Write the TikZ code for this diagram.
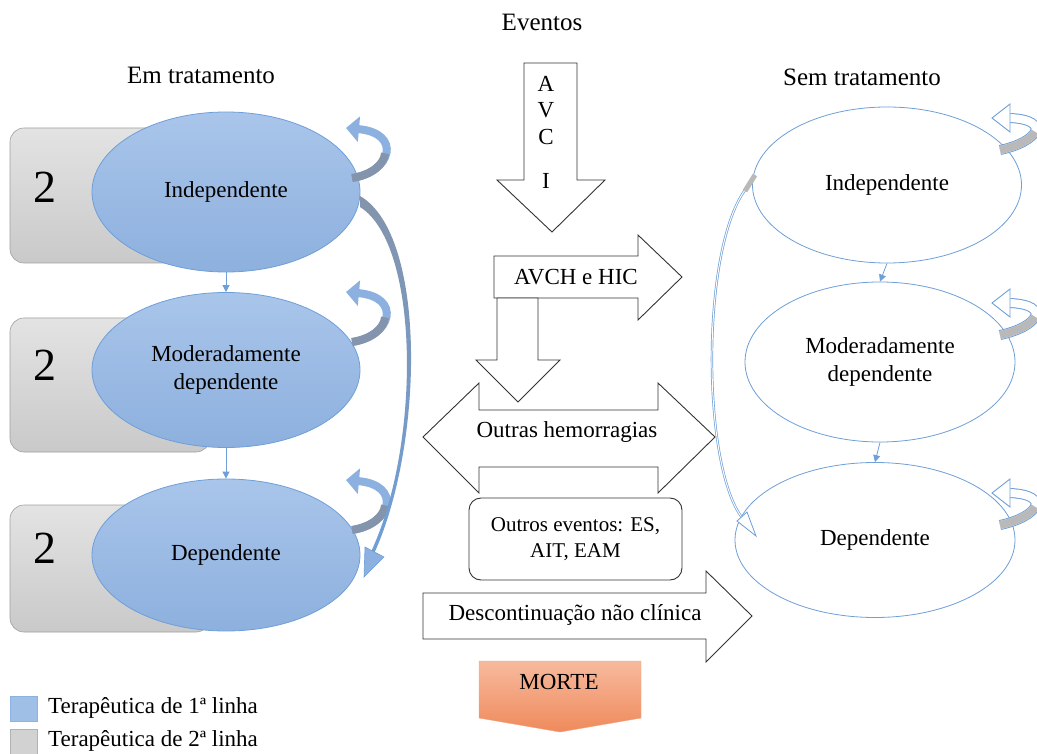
\documentclass[tikz,border=0pt]{standalone}
\usepackage{fontspec}
\setmainfont{Liberation Serif}
\usetikzlibrary{arrows.meta,shapes.geometric}
\definecolor{azul}{HTML}{6E9FD8}
\definecolor{azulclaro}{HTML}{A9C5EA}
\definecolor{azulesc}{HTML}{8DB0DE}
\definecolor{azulseta}{HTML}{8CB0DF}
\definecolor{cinzaazul}{HTML}{8494AC}
\definecolor{laranjaclaro}{HTML}{F7BA9E}
\definecolor{laranja}{HTML}{EF8A5B}
\begin{document}
\begin{tikzpicture}[x=1pt,y=-1pt,
	texto/.style={font=\fontsize{23}{28}\selectfont,inner sep=0pt,align=center},
	titulo/.style={font=\fontsize{25}{30}\selectfont,inner sep=0pt},
	trat/.style={ellipse,draw=azul,line width=.8pt,top color=azulclaro,bottom color=azulesc,texto},
	semtrat/.style={ellipse,draw=azul,line width=.8pt,fill=white,texto},
	caixa/.style={draw=gray!75,rounded corners=14pt,top color=gray!22,bottom color=gray!42,line width=.6pt},
	seta/.style={draw=black!80,line width=.9pt,fill=white,line join=miter},
	passo/.style={azul,line width=.8pt,-{Triangle[length=7pt,width=7pt]}}]
	\useasboundingbox (0,0) rectangle (1037,754);
	%titulos
	\node[titulo] (emtrat) at (201,75) {Em tratamento};
	\node[titulo] (eventos) at (542,22) {Eventos};
	\node[titulo] (semtrat) at (862,77) {Sem tratamento};
	%segunda linha (caixas cinzentas)
	\foreach \y/\h/\c/\n in {128/263/187/a,318/452/365/b,505/632/548/c}{
		\draw[caixa] (10,\y) rectangle (210,\h);
		\node[font=\fontsize{46}{46}\selectfont,inner sep=0pt] (dois\n) at (45,\c) {2};
	}
	%em tratamento
	\node[trat,minimum width=268pt,minimum height=160pt] (ti) at (226,192) {Independente};
	\node[trat,minimum width=268pt,minimum height=155pt] (tm) at (226,370) {Moderadamente\\dependente};
	\node[trat,minimum width=268pt,minimum height=152pt] (td) at (226,555) {Dependente};
	\draw[passo] (ti.south) -- (tm.north);
	\draw[passo] (tm.south) -- (td.north);
	\foreach \s in {178,342,530}{
		\draw[azulseta,line width=8pt,-{Triangle[length=13pt,width=25pt]}] (352,\s) .. controls (392,\s-6) and (402,\s-45) .. (346,\s-50);
		\draw[cinzaazul,line width=8pt] (352,\s) .. controls (372,\s-3) and (384,\s-13.75) .. (385,\s-24.6);
	}
	\shade[top color=cinzaazul,bottom color=azul] (360,196) .. controls (428,235) and (424,450) .. (372,558) -- (369,556) .. controls (421,450) and (421,245) .. (360,207) -- cycle;
	\filldraw[fill=azulseta,draw=azul,line width=.6pt] (384,557) -- (364,577) -- (365,547) -- cycle;
	%sem tratamento
	\node[semtrat,minimum width=269pt,minimum height=156pt] (si) at (887,185) {Independente};
	\node[semtrat,minimum width=270pt,minimum height=160pt] (sm) at (880,362) {Moderadamente\\dependente};
	\node[semtrat,minimum width=280pt,minimum height=155pt] (sd) at (875,540) {Dependente};
	\draw[passo] (si.south) -- (sm.north);
	\draw[passo] (sm.south) -- (sd.north);
	\foreach \s in {150,335,525}{
		\draw[azul,line width=10pt] (1000,\s) .. controls (1038,\s-8) and (1052,\s-30) .. (1010,\s-32);
		\draw[white,line width=8pt] (1000,\s) .. controls (1038,\s-8) and (1052,\s-30) .. (1010,\s-32);
		\draw[gray!55,line width=8pt] (1000,\s) .. controls (1019,\s-4) and (1032,\s-11.5) .. (1035,\s-18.25);
		\filldraw[fill=white,draw=azul,line width=.9pt] (1010,\s-46) -- (992,\s-32) -- (1010,\s-18) -- cycle;
	}
	\draw[azul,line width=2.4pt] (752,182) .. controls (700,230) and (700,470) .. (744,520);
	\draw[white,line width=1pt] (752,182) .. controls (700,230) and (700,470) .. (744,520);
	\draw[gray!55,line width=5pt] (755,175) -- (745,191);
	\filldraw[fill=white,draw=azul,line width=.8pt] (737,521) -- (756,536) -- (747,512) -- cycle;
	%eventos
	\draw[seta] (524,63) -- (577,63) -- (577,180) -- (605,180) -- (552,232) -- (497,180) -- (524,180) -- cycle;
	\foreach \l/\y [count=\i] in {A/84,V/110,C/137,I/181}
		\node[texto] (avci\i) at (546,\y) {\l};
	\draw[seta] (494,256) -- (638,256) -- (638,235) -- (682,277) -- (638,320) -- (638,298) -- (494,298) -- cycle;
	\node[texto] (avch) at (576,277) {AVCH e HIC};
	\draw[seta] (423,437) -- (479,383) -- (479,410) -- (658,410) -- (658,383) -- (715,437) -- (658,493) -- (658,467) -- (479,467) -- (479,493) -- cycle;
	\draw[seta] (497,298) -- (538,298) -- (538,360) -- (560,360) -- (518,402) -- (476,360) -- (497,360) -- cycle;
	\node[texto] (hemo) at (567,432) {Outras hemorragias};
	\node[draw=black!80,line width=.9pt,fill=white,rounded corners=12pt,minimum width=213pt,minimum height=82pt,texto,font=\fontsize{21}{26}\selectfont] (outros) at (575.5,539) {Outros eventos: ES,\\AIT, EAM};
	\draw[seta] (423,593) -- (706,593) -- (706,571) -- (752,616) -- (706,662) -- (706,639) -- (423,639) -- cycle;
	\node[texto] (desc) at (575,615) {Descontinuação não clínica};
	\shade[top color=laranjaclaro,bottom color=laranja,draw=laranja!80,line width=.4pt] (479,661) -- (641,661) -- (641,718) -- (560,732) -- (479,718) -- cycle;
	\node[texto] (morte) at (559,682) {MORTE};
	%legenda
	\draw[azul!80,fill=azulclaro!85!azul] (10,696) rectangle (37,721);
	\draw[gray!60,fill=gray!35] (10,729) rectangle (37,754);
	\node[texto,anchor=west] (leg1) at (48,708) {Terapêutica de 1ª linha};
	\node[texto,anchor=west] (leg2) at (48,741) {Terapêutica de 2ª linha};
\end{tikzpicture}
\end{document}
